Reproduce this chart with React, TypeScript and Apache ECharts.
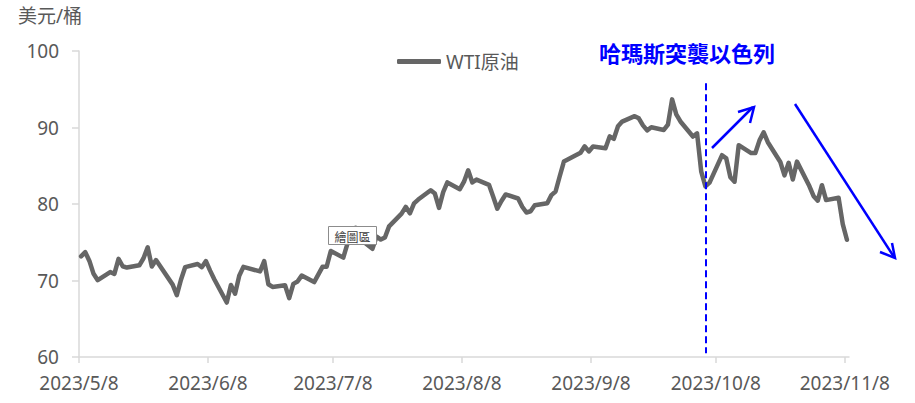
import React, { useEffect, useRef } from 'react';
import * as echarts from 'echarts';

// ---- data ----
const dates: string[] = [
  '2023/5/8', '2023/5/9', '2023/5/10', '2023/5/11', '2023/5/12',
  '2023/5/15', '2023/5/16', '2023/5/17', '2023/5/18', '2023/5/19',
  '2023/5/22', '2023/5/23', '2023/5/24', '2023/5/25', '2023/5/26',
  '2023/5/30', '2023/5/31', '2023/6/1', '2023/6/2',
  '2023/6/5', '2023/6/6', '2023/6/7', '2023/6/8', '2023/6/9',
  '2023/6/12', '2023/6/13', '2023/6/14', '2023/6/15', '2023/6/16',
  '2023/6/20', '2023/6/21', '2023/6/22', '2023/6/23',
  '2023/6/26', '2023/6/27', '2023/6/28', '2023/6/29', '2023/6/30',
  '2023/7/3', '2023/7/5', '2023/7/6', '2023/7/7',
  '2023/7/10', '2023/7/11', '2023/7/12', '2023/7/13', '2023/7/14',
  '2023/7/17', '2023/7/18', '2023/7/19', '2023/7/20', '2023/7/21',
  '2023/7/24', '2023/7/25', '2023/7/26', '2023/7/27', '2023/7/28',
  '2023/7/31', '2023/8/1', '2023/8/2', '2023/8/3', '2023/8/4',
  '2023/8/7', '2023/8/8', '2023/8/9', '2023/8/10', '2023/8/11',
  '2023/8/14', '2023/8/15', '2023/8/16', '2023/8/17', '2023/8/18',
  '2023/8/21', '2023/8/22', '2023/8/23', '2023/8/24', '2023/8/25',
  '2023/8/28', '2023/8/29', '2023/8/30', '2023/8/31', '2023/9/1',
  '2023/9/5', '2023/9/6', '2023/9/7', '2023/9/8',
  '2023/9/11', '2023/9/12', '2023/9/13', '2023/9/14', '2023/9/15',
  '2023/9/18', '2023/9/19', '2023/9/20', '2023/9/21', '2023/9/22',
  '2023/9/25', '2023/9/26', '2023/9/27', '2023/9/28', '2023/9/29',
  '2023/10/2', '2023/10/3', '2023/10/4', '2023/10/5', '2023/10/6',
  '2023/10/9', '2023/10/10', '2023/10/11', '2023/10/12', '2023/10/13',
  '2023/10/16', '2023/10/17', '2023/10/18', '2023/10/19', '2023/10/20',
  '2023/10/23', '2023/10/24', '2023/10/25', '2023/10/26', '2023/10/27',
  '2023/10/30', '2023/10/31', '2023/11/1', '2023/11/2', '2023/11/3',
  '2023/11/6', '2023/11/7', '2023/11/8',
];

const wtiPrices: number[] = [
  73.16, 73.71, 72.56, 70.87, 70.04,
  71.11, 70.86, 72.83, 71.86, 71.69,
  71.99, 72.91, 74.34, 71.83, 72.67,
  69.46, 68.09, 70.10, 71.74,
  72.15, 71.74, 72.53, 71.29, 70.17,
  67.12, 69.42, 68.27, 70.62, 71.78,
  71.19, 72.53, 69.51, 69.16,
  69.37, 67.70, 69.56, 69.86, 70.64,
  69.79, 71.79, 71.80, 73.86,
  72.99, 74.83, 75.75, 76.89, 75.42,
  74.15, 75.75, 75.35, 75.63, 77.07,
  78.74, 79.63, 78.78, 80.09, 80.58,
  81.80, 81.37, 79.49, 81.55, 82.82,
  81.94, 82.92, 84.40, 82.82, 83.19,
  82.51, 80.99, 79.38, 80.39, 81.25,
  80.72, 79.64, 78.89, 79.05, 79.83,
  80.10, 81.16, 81.63, 83.63, 85.55,
  86.69, 87.54, 86.87, 87.51,
  87.29, 88.84, 88.52, 90.16, 90.77,
  91.48, 91.20, 90.28, 89.63, 90.03,
  89.68, 90.39, 93.68, 91.71, 90.79,
  88.82, 89.23, 84.22, 82.31, 82.79,
  86.38, 85.97, 83.49, 82.91, 87.69,
  86.66, 86.66, 88.32, 89.37, 88.08,
  85.49, 83.74, 85.39, 83.21, 85.54,
  82.31, 81.02, 80.44, 82.46, 80.51,
  80.82, 77.37, 75.33,
];

const tickDates: string[] = [
  '2023/5/8', '2023/6/8', '2023/7/8', '2023/8/8', '2023/9/8', '2023/10/8', '2023/11/8',
];
const axisStartDate = '2023/5/8';
const axisEndDate = '2023/11/9';
const yMin = 60;
const yMax = 100;
const yInterval = 10;

const seriesName = 'WTI原油';
const unitLabel = '美元/桶';
const eventLabel = '哈瑪斯突襲以色列';
const eventDate = '2023/10/5';
const plotAreaTip = '繪圖區';

const FONT = "'Noto Sans', 'Noto Sans CJK TC', sans-serif";
const LABEL_COLOR = '#595959';
const AXIS_COLOR = '#d9d9d9';
const BLUE = '#0000ff';

function dayOf(s: string): number {
  const [y, m, d] = s.split('/').map(Number);
  const [y0, m0, d0] = axisStartDate.split('/').map(Number);
  return (Date.UTC(y, m - 1, d) - Date.UTC(y0, m0 - 1, d0)) / 86400000;
}

export default function App() {
  const ref = useRef<HTMLDivElement>(null);

  useEffect(() => {
    if (!ref.current) return;
    const chart = echarts.init(ref.current, undefined, { renderer: 'svg' });
    const tickValues = tickDates.map(dayOf);
    // Excel "between tick marks": each day's point sits in the middle of its slot
    const seriesData = dates.map((d, i) => [dayOf(d) + 0.5, wtiPrices[i]]);
    const eventX = dayOf(eventDate) + 0.6;

    const option: any = {
      animation: false,
      title: {
        text: unitLabel,
        left: 18,
        top: 6,
        padding: 0,
        textStyle: { color: LABEL_COLOR, fontSize: 19, fontWeight: 'normal', fontFamily: FONT },
      },
      legend: {
        data: [{ name: seriesName, icon: 'roundRect' }],
        left: 397,
        top: 52,
        padding: 0,
        itemWidth: 44,
        itemHeight: 5,
        textStyle: { color: LABEL_COLOR, fontSize: 19, fontFamily: FONT },
      },
      grid: { left: 79, right: 66, top: 51, bottom: 46 },
      xAxis: {
        type: 'value',
        min: 0,
        max: dayOf(axisEndDate),
        axisLine: { show: true, onZero: false, lineStyle: { color: AXIS_COLOR, width: 1.5 } },
        axisTick: { show: true, customValues: tickValues, length: 6, lineStyle: { color: AXIS_COLOR, width: 1.5 } },
        axisLabel: {
          customValues: tickValues,
          margin: 16,
          color: LABEL_COLOR,
          fontSize: 19,
          fontFamily: FONT,
          formatter: (v: number) => {
            const i = tickValues.findIndex((t) => Math.abs(t - v) < 0.01);
            return i >= 0 ? tickDates[i] : '';
          },
        },
        splitLine: { show: false },
      },
      yAxis: {
        type: 'value',
        min: yMin,
        max: yMax,
        interval: yInterval,
        axisLine: { show: true, lineStyle: { color: AXIS_COLOR, width: 1.5 } },
        axisTick: { show: true, length: 7, lineStyle: { color: AXIS_COLOR, width: 1.5 } },
        axisLabel: { margin: 20, color: LABEL_COLOR, fontSize: 19, fontFamily: FONT },
        splitLine: { show: false },
      },
      series: [
        {
          name: seriesName,
          type: 'line',
          data: seriesData,
          showSymbol: false,
          symbol: 'none',
          lineStyle: { color: '#666666', width: 4.5, cap: 'round', join: 'round' },
          itemStyle: { color: '#666666' },
          markLine: {
            silent: true,
            symbol: ['none', 'none'],
            label: { show: false },
            lineStyle: { color: BLUE, width: 2, type: [7, 4] },
            data: [[{ coord: [eventX, 95.8] }, { coord: [eventX, 60.5] }]],
          },
        },
      ],
      graphic: [
        {
          type: 'text',
          z: 100,
          style: {
            text: eventLabel,
            x: 599,
            y: 52,
            verticalAlign: 'middle',
            fill: BLUE,
            fontSize: 22,
            fontWeight: 'bold',
            fontFamily: "'Noto Sans CJK TC', sans-serif",
          },
        },
        {
          type: 'polyline',
          z: 100,
          shape: { points: [[712, 148], [753, 107]] },
          style: { stroke: BLUE, lineWidth: 2.5, fill: 'none' },
        },
        {
          type: 'polyline',
          z: 100,
          shape: { points: [[738, 112], [754, 107], [750, 123]] },
          style: { stroke: BLUE, lineWidth: 2.5, fill: 'none' },
        },
        {
          type: 'polyline',
          z: 100,
          shape: { points: [[795, 104], [894, 257]] },
          style: { stroke: BLUE, lineWidth: 2.5, fill: 'none' },
        },
        {
          type: 'polyline',
          z: 100,
          shape: { points: [[880, 252], [895, 258], [892, 243]] },
          style: { stroke: BLUE, lineWidth: 2.5, fill: 'none' },
        },
        {
          type: 'rect',
          z: 100,
          shape: { x: 328.5, y: 226.5, width: 48, height: 18 },
          style: { fill: '#ffffff', stroke: '#8c8c8c', lineWidth: 1 },
        },
        {
          type: 'text',
          z: 101,
          style: {
            text: plotAreaTip,
            x: 352.5,
            y: 236,
            align: 'center',
            verticalAlign: 'middle',
            fill: '#404040',
            fontSize: 12,
            fontFamily: "'Noto Sans CJK TC', sans-serif",
          },
        },
      ],
    };

    chart.setOption(option);
    return () => chart.dispose();
  }, []);

  return (
    <div
      ref={ref}
      style={{ position: 'absolute', left: 0, top: 0, width: 915, height: 403 }}
    />
  );
}
